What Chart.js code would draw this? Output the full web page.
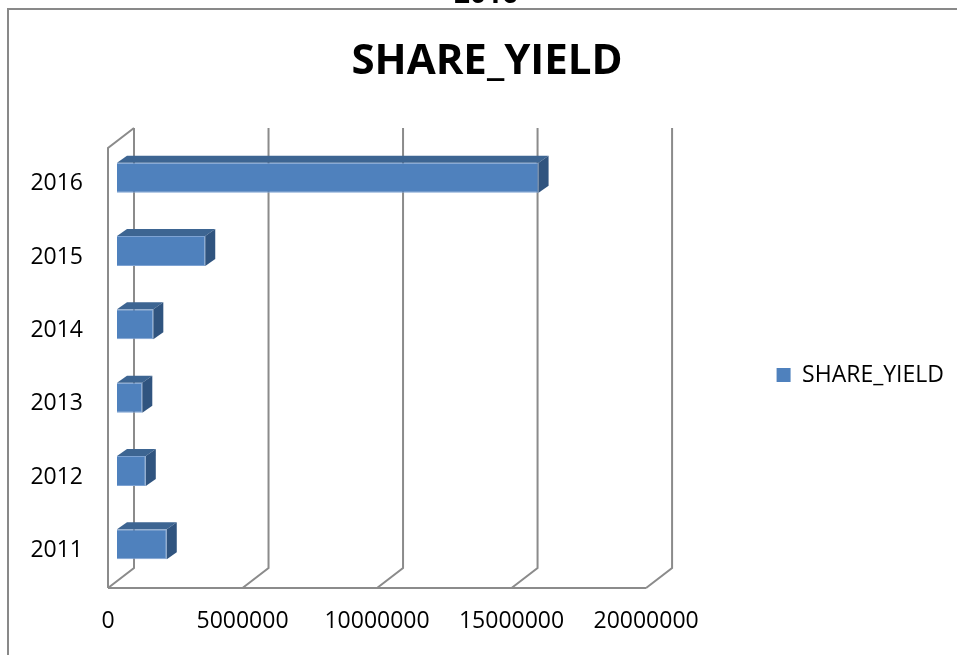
<!DOCTYPE html>
<html>
<head>
<meta charset="utf-8">
<title>SHARE_YIELD</title>
<script src="https://cdn.jsdelivr.net/npm/chart.js@4/dist/chart.umd.min.js"></script>
<style>
  html, body { margin: 0; padding: 0; background: #ffffff; }
  canvas { display: block; }
</style>
</head>
<body>
<canvas id="chart" width="957" height="655"></canvas>
<script>
// ---- data ----
const years = ['2011', '2012', '2013', '2014', '2015', '2016'];
const shareYield = [1850000, 1070000, 940000, 1350000, 3280000, 15670000];
const seriesName = 'SHARE_YIELD';
const valueTicks = [0, 5000000, 10000000, 15000000, 20000000];
const headerText = '2016';

// ---- look ----
const FONT = '"Open Sans", "DejaVu Sans", sans-serif';
const BAR_FRONT = '#4f81bd';
const BAR_EDGE = '#7ea3d3';
const BAR_TOP = '#3d6592';
const BAR_SIDE = '#30547f';
const WALL = '#8b8b8b';

// offsets of the 3-D planes relative to the plane the bar fronts sit in
const BACK = { dx: 17, dy: -13 };
const FRONT = { dx: -9, dy: 7 };
const DEPTH = { dx: 10, dy: -7 };

Chart.defaults.font.family = FONT;
Chart.defaults.color = '#000000';

// Walls, floor and outer frame, plus the top/side faces of each bar
const box3d = {
  id: 'box3d',
  beforeDraw(chart) {
    const ctx = chart.ctx;
    ctx.save();
    ctx.fillStyle = '#ffffff';
    ctx.fillRect(0, 0, chart.width, chart.height);
    ctx.strokeStyle = '#898989';
    ctx.lineWidth = 2;
    ctx.beginPath();
    ctx.moveTo(8, chart.height);
    ctx.lineTo(8, 9);
    ctx.lineTo(chart.width, 9);
    ctx.stroke();
    ctx.fillStyle = '#000000';
    ctx.font = 'bold 28px ' + FONT;
    ctx.textAlign = 'center';
    ctx.textBaseline = 'alphabetic';
    ctx.fillText(headerText, 486, 3);
    ctx.restore();
  },
  beforeDatasetsDraw(chart) {
    const { ctx, chartArea: a, scales: { x } } = chart;
    const x0 = x.getPixelForValue(x.min);
    const x1 = x.getPixelForValue(x.max);
    const backBottom = a.bottom + BACK.dy;
    const frontBottom = a.bottom + FRONT.dy;
    ctx.save();
    ctx.strokeStyle = WALL;
    ctx.lineWidth = 2;
    ctx.lineJoin = 'miter';
    ctx.beginPath();
    x.ticks.forEach(t => {
      const p = x.getPixelForValue(t.value);
      ctx.moveTo(p + BACK.dx, a.top + BACK.dy);
      ctx.lineTo(p + BACK.dx, backBottom);
      ctx.lineTo(p + FRONT.dx, frontBottom);
    });
    ctx.moveTo(x0 + FRONT.dx, frontBottom);
    ctx.lineTo(x1 + FRONT.dx, frontBottom);
    ctx.moveTo(x0 + FRONT.dx, frontBottom);
    ctx.lineTo(x0 + FRONT.dx, a.top + FRONT.dy);
    ctx.lineTo(x0 + BACK.dx, a.top + BACK.dy);
    ctx.stroke();
    ctx.restore();
  },
  afterDatasetsDraw(chart) {
    const ctx = chart.ctx;
    ctx.save();
    chart.getDatasetMeta(0).data.forEach(bar => {
      const { x, y, base, height } = bar.getProps(['x', 'y', 'base', 'height'], true);
      const top = y - height / 2;
      const bottom = y + height / 2;
      ctx.fillStyle = BAR_TOP;
      ctx.beginPath();
      ctx.moveTo(base, top);
      ctx.lineTo(base + DEPTH.dx, top + DEPTH.dy);
      ctx.lineTo(x + DEPTH.dx, top + DEPTH.dy);
      ctx.lineTo(x, top);
      ctx.closePath();
      ctx.fill();
      ctx.fillStyle = BAR_SIDE;
      ctx.beginPath();
      ctx.moveTo(x, top);
      ctx.lineTo(x + DEPTH.dx, top + DEPTH.dy);
      ctx.lineTo(x + DEPTH.dx, bottom + DEPTH.dy);
      ctx.lineTo(x, bottom);
      ctx.closePath();
      ctx.fill();
    });
    ctx.restore();
  }
};

new Chart(document.getElementById('chart'), {
  type: 'bar',
  data: {
    labels: years,
    datasets: [{
      label: seriesName,
      data: shareYield,
      backgroundColor: BAR_FRONT,
      borderColor: BAR_EDGE,
      borderWidth: 1,
      categoryPercentage: 1,
      barPercentage: 0.41
    }]
  },
  options: {
    indexAxis: 'y',
    responsive: false,
    animation: false,
    devicePixelRatio: 1,
    layout: { padding: { left: 20, right: 3, top: 0, bottom: 0 } },
    scales: {
      x: {
        type: 'linear',
        min: 0,
        max: 20000000,
        grid: { display: false, drawTicks: false },
        border: { display: false },
        afterBuildTicks(scale) { scale.ticks = valueTicks.map(v => ({ value: v })); },
        afterFit(scale) { scale.height = 74; },
        ticks: {
          font: { size: 23 },
          color: '#000000',
          padding: 27,
          labelOffset: FRONT.dx,
          maxRotation: 0,
          autoSkip: false,
          callback: v => String(v)
        }
      },
      y: {
        type: 'category',
        reverse: true,
        grid: { display: false, drawTicks: false },
        border: { display: false },
        afterFit(scale) { scale.width = 97; },
        ticks: {
          font: { size: 23 },
          color: '#000000',
          padding: 34,
          labelOffset: 6
        }
      }
    },
    plugins: {
      title: {
        display: true,
        text: seriesName,
        color: '#000000',
        font: { size: 42, weight: 'bold' },
        padding: { top: 36.8, bottom: 53.8 }
      },
      legend: {
        display: true,
        position: 'right',
        fullSize: false,
        align: 'center',
        maxWidth: 330,
        title: { display: true, text: ' ', padding: 0, font: { size: 23.3 } },
        labels: {
          boxWidth: 14,
          boxHeight: 14,
          padding: 121.5,
          color: '#000000',
          font: { size: 23 },
          generateLabels(chart) {
            return Chart.defaults.plugins.legend.labels.generateLabels(chart)
              .map(item => Object.assign(item, { strokeStyle: item.fillStyle, lineWidth: 0 }));
          }
        }
      },
      tooltip: { enabled: false }
    }
  },
  plugins: [box3d]
});
</script>
</body>
</html>
